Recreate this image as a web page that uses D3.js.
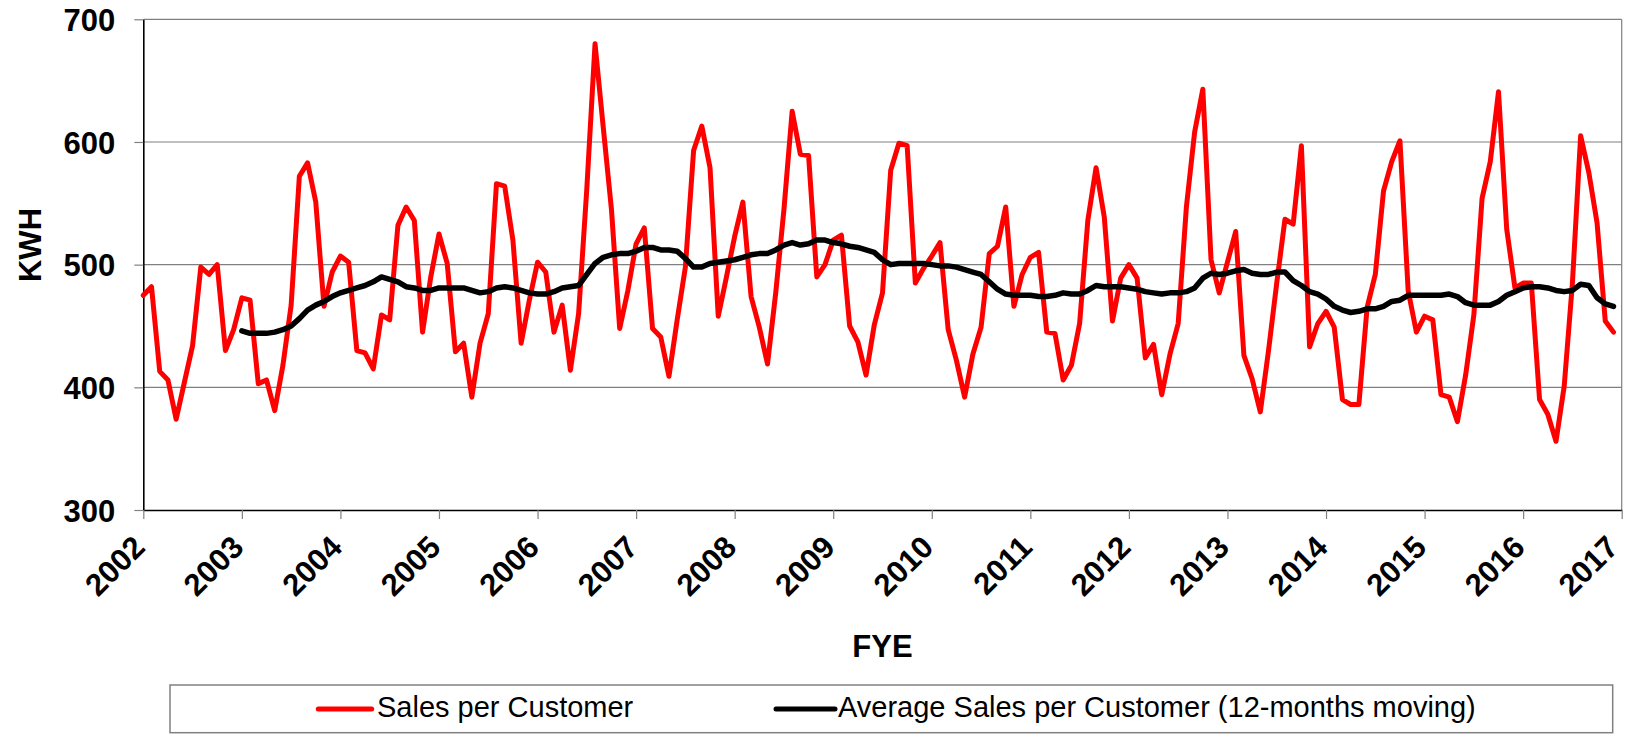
<!DOCTYPE html>
<html>
<head>
<meta charset="utf-8">
<script src="https://cdn.jsdelivr.net/npm/d3@7/dist/d3.min.js"></script>
<style>
  html, body { margin: 0; padding: 0; background: #fff; }
  svg { display: block; }
  text { font-family: "Liberation Sans", Arial, Helvetica, sans-serif; }
</style>
</head>
<body>
<svg id="chart" width="1627" height="736"></svg>
<script>
// ---- DATA ----
const yearLabels = ["2002","2003","2004","2005","2006","2007","2008","2009","2010","2011","2012","2013","2014","2015","2016","2017"];
const yTickValues = [300, 400, 500, 600, 700];
const seriesNames = ["Sales per Customer", "Average Sales per Customer (12-months moving)"];

// Monthly sales per customer (KWH), Jan 2002 .. Dec 2016
const salesPerCustomer = [
  475,482,413,406,374,404,434,498,492,500,430,447,
  473,471,403,406,381,418,467,572,583,551,466,494,
  507,502,430,428,415,459,455,532,547,536,445,490,
  525,501,429,436,392,436,460,566,564,520,436,471,
  502,494,445,467,414,460,562,680,612,545,448,479,
  517,530,448,441,409,455,498,593,613,579,458,490,
  523,551,474,449,419,477,545,625,590,589,490,500,
  520,524,450,437,410,451,477,577,599,597,485,497,
  507,518,447,422,392,427,449,509,515,547,466,492,
  506,510,445,444,406,418,452,536,579,539,454,489,
  500,489,424,435,394,427,452,547,608,643,504,477,
  502,527,426,407,380,430,485,537,533,597,433,452,
  462,449,390,386,386,465,492,560,584,601,479,445,
  458,455,394,392,372,410,459,554,584,641,529,481,
  485,485,390,378,356,401,485,605,575,534,454,445
];

// 12-month moving average (KWH); none for the first 12 months
const movingAverage = [
  null,null,null,null,null,null,null,null,null,null,null,null,
  446,444,444,444,445,447,450,456,463,467,470,474,
  477,479,481,483,486,490,488,486,482,481,479,479,
  481,481,481,481,479,477,478,481,482,481,479,477,
  476,476,478,481,482,483,492,501,506,508,509,509,
  511,514,514,512,512,511,505,498,498,501,502,503,
  504,506,508,509,509,512,516,518,516,517,520,520,
  518,517,515,514,512,510,504,500,501,501,501,501,
  500,499,499,498,496,494,492,486,480,476,475,475,
  475,474,474,475,477,476,476,479,483,482,482,482,
  481,480,478,477,476,477,477,478,481,489,493,492,
  493,495,496,493,492,492,494,494,487,483,478,476,
  472,466,463,461,462,464,464,466,470,471,475,475,
  475,475,475,476,474,469,467,467,467,470,475,478,
  481,482,482,481,479,478,479,484,483,473,468,466
];

// ---- LAYOUT ----
const svg = d3.select("#chart");
const plotL = 143.3, plotR = 1621.7, plotT = 19.3, plotB = 510;
const nYears = yearLabels.length - 1;
const x = d3.scaleLinear().domain([0, nYears * 12]).range([plotL, plotR]);
const y = d3.scaleLinear().domain([300, 700]).range([plotB, plotT]);
const gridColor = "#808080";

svg.append("rect").attr("width", 1627).attr("height", 736).attr("fill", "#fff");

// gridlines
svg.append("g").selectAll("line").data(yTickValues.filter(v => v > 300)).join("line")
  .attr("x1", plotL).attr("x2", plotR)
  .attr("y1", d => y(d)).attr("y2", d => y(d))
  .attr("stroke", gridColor).attr("stroke-width", 1.2);

// right border
svg.append("line").attr("x1", plotR).attr("x2", plotR).attr("y1", plotT).attr("y2", plotB)
  .attr("stroke", gridColor).attr("stroke-width", 1.2);

// Y axis
const yAxis = svg.append("g").attr("transform", `translate(${plotL},0)`)
  .call(d3.axisLeft(y).tickValues(yTickValues).tickSize(9).tickSizeOuter(0).tickPadding(19));
yAxis.select(".domain").attr("stroke", "#000").attr("stroke-width", 1.6);
yAxis.selectAll(".tick line").attr("stroke", gridColor).attr("stroke-width", 1.2);
yAxis.selectAll(".tick text")
  .attr("font-family", "'Liberation Sans', Arial, sans-serif")
  .attr("font-size", 31).attr("font-weight", "bold").attr("fill", "#000")
  .attr("dy", "0.36em");

// X axis
const xTickVals = yearLabels.map((d, i) => i * 12);
const xAxis = svg.append("g").attr("transform", `translate(0,${plotB})`)
  .call(d3.axisBottom(x).tickValues(xTickVals).tickFormat((d, i) => yearLabels[i])
    .tickSize(9).tickSizeOuter(0));
xAxis.select(".domain").attr("stroke", "#000").attr("stroke-width", 1.6);
xAxis.selectAll(".tick line").attr("stroke", gridColor).attr("stroke-width", 1.2);
xAxis.selectAll(".tick text")
  .attr("font-family", "'Liberation Sans', Arial, sans-serif")
  .attr("font-size", 31).attr("font-weight", "bold").attr("fill", "#000")
  .attr("y", null).attr("dy", null)
  .attr("text-anchor", "end")
  .attr("transform", (d, i) => i === xTickVals.length - 1
    ? "translate(-2,39) rotate(-45)"
    : "translate(3,39) rotate(-45)");

// Axis titles
svg.append("text").attr("transform", "translate(40.7,245) rotate(-90)")
  .attr("text-anchor", "middle").attr("font-size", 31).attr("font-weight", "bold")
  .text("KWH");
svg.append("text").attr("x", (plotL + plotR) / 2).attr("y", 657)
  .attr("text-anchor", "middle").attr("font-size", 31).attr("font-weight", "bold")
  .text("FYE");

// Lines
const redLine = d3.line().x((d, i) => x(i)).y(d => y(d));
const avgLine = d3.line().defined(d => d != null).x((d, i) => x(i)).y(d => y(d));

svg.append("path").datum(salesPerCustomer)
  .attr("d", redLine).attr("fill", "none").attr("stroke", "#ff0000")
  .attr("stroke-width", 5).attr("stroke-linejoin", "round").attr("stroke-linecap", "round");

svg.append("path").datum(movingAverage)
  .attr("d", avgLine).attr("fill", "none").attr("stroke", "#000")
  .attr("stroke-width", 5.5).attr("stroke-linejoin", "round").attr("stroke-linecap", "round");

// Legend
const legend = svg.append("g");
legend.append("rect").attr("x", 170).attr("y", 685).attr("width", 1442.7).attr("height", 47.7)
  .attr("fill", "#fff").attr("stroke", gridColor).attr("stroke-width", 1.5);
const legendItems = [
  { name: seriesNames[0], color: "#ff0000", x1: 318.3, x2: 371.7, tx: 377 },
  { name: seriesNames[1], color: "#000", x1: 776, x2: 835, tx: 838 }
];
legendItems.forEach(it => {
  legend.append("line").attr("x1", it.x1).attr("x2", it.x2).attr("y1", 709).attr("y2", 709)
    .attr("stroke", it.color).attr("stroke-width", 5).attr("stroke-linecap", "round");
  legend.append("text").attr("x", it.tx).attr("y", 717).attr("font-size", 29)
    .attr("fill", "#000").text(it.name);
});
</script>
</body>
</html>
